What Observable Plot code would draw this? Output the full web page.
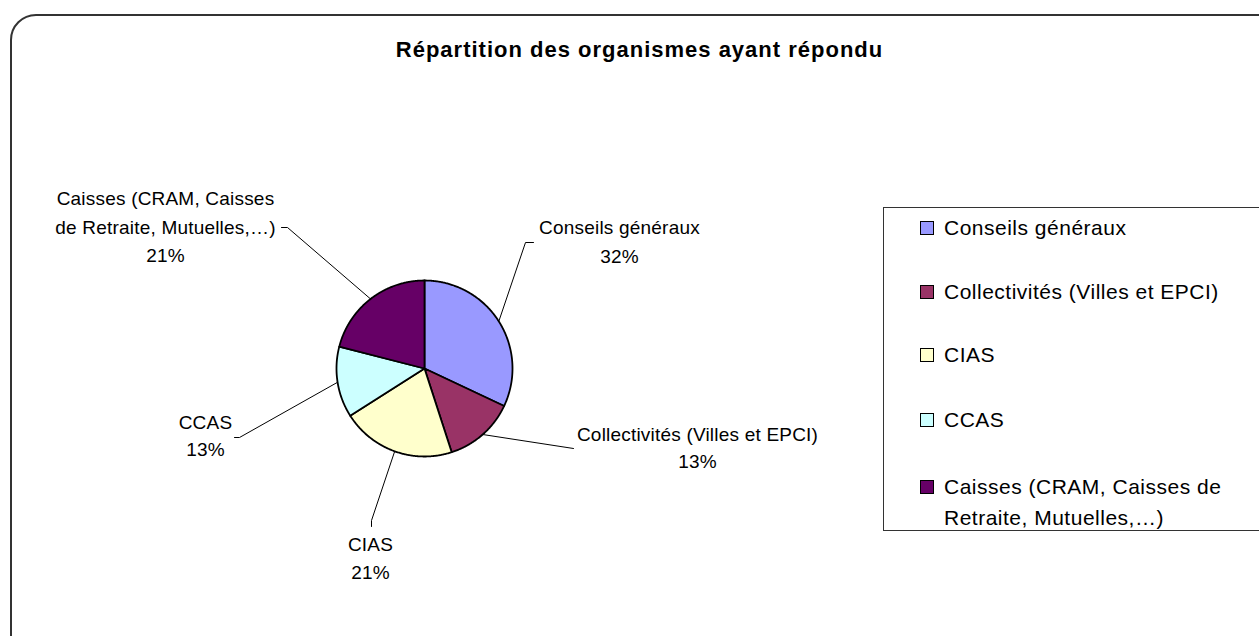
<!DOCTYPE html>
<html>
<head>
<meta charset="utf-8">
<script src="https://cdn.jsdelivr.net/npm/d3@7"></script>
<script src="https://cdn.jsdelivr.net/npm/@observablehq/plot@0.6"></script>
<style>
  body { margin: 0; background: #fff; font-family: Arial, "Liberation Sans", sans-serif; }
  #wrap { position: relative; width: 1259px; height: 636px; overflow: hidden; background: #fff; }
  #frame { position: absolute; left: 10px; top: 14px; width: 1300px; height: 660px; border: 2px solid #333; border-radius: 26px; box-sizing: border-box; }
  #chart { position: absolute; left: 0; top: 0; }
  #legend { position: absolute; left: 883px; top: 207px; width: 420px; height: 324px; border: 1px solid #333; box-sizing: border-box; background: #fff; }
  .sw { position: absolute; left: 36px; width: 12px; height: 12px; border: 1px solid #000; }
  .tx { position: absolute; left: 60px; font-size: 21px; line-height: 31px; letter-spacing: 0.5px; color: #000; white-space: nowrap; }
</style>
</head>
<body>
<div id="wrap">
  <div id="frame"></div>
  <div id="chart"></div>
  <div id="legend"></div>
</div>
<script>
// ---- data ----
const title = "Répartition des organismes ayant répondu";
const categories = ["Conseils généraux", "Collectivités (Villes et EPCI)", "CIAS", "CCAS", "Caisses (CRAM, Caisses de Retraite, Mutuelles,…)"];
const values = [32, 13, 21, 13, 21];
const colors = ["#9999FF", "#993366", "#FFFFCC", "#CCFFFF", "#660066"];
const labelLines = [["Conseils généraux"], ["Collectivités (Villes et EPCI)"], ["CIAS"], ["CCAS"], ["Caisses (CRAM, Caisses", "de Retraite, Mutuelles,…)"]];
const legendLines = [["Conseils généraux"], ["Collectivités (Villes et EPCI)"], ["CIAS"], ["CCAS"], ["Caisses (CRAM, Caisses de", "Retraite, Mutuelles,…)"]];

// ---- layout (pixels) ----
const cx = 424, cy = 368, R = 88;
const labelX = [619, 697, 370, 205, 165];
const labelBaselines = [[233, 262], [440, 467], [550, 578], [428, 455], [204, 233, 261]];
const leaderEnds = [[[525, 242], [533, 242]], [[573, 448]], [[371, 520], [371, 526]], [[239, 437], [234, 437]], [[287, 227], [281, 227]]];
const legendTops = [221, 285, 348, 413, 480];

const ux = px => (px - cx) / R;
const uy = py => (cy - py) / R;

const total = d3.sum(values);
const arcs = d3.pie().sort(null).value(d => d)(values);

// slice polygons in unit coordinates
const slicePts = [];
arcs.forEach((a, i) => {
  slicePts.push({name: categories[i], x: 0, y: 0});
  const n = Math.max(2, Math.ceil((a.endAngle - a.startAngle) / (Math.PI / 360)));
  for (let k = 0; k <= n; k++) {
    const t = a.startAngle + (a.endAngle - a.startAngle) * k / n;
    slicePts.push({name: categories[i], x: Math.sin(t), y: Math.cos(t)});
  }
});

// leader lines: from arc midpoint to label anchor
const leaderPts = [];
arcs.forEach((a, i) => {
  const m = (a.startAngle + a.endAngle) / 2;
  leaderPts.push({name: categories[i], x: Math.sin(m), y: Math.cos(m)});
  leaderEnds[i].forEach(([px, py]) => leaderPts.push({name: categories[i], x: ux(px), y: uy(py)}));
});

// labels
const labelRows = [];
categories.forEach((c, i) => {
  const lines = [...labelLines[i], `${Math.round(values[i] / total * 100)}%`];
  lines.forEach((s, j) => labelRows.push({text: s, x: ux(labelX[i]), y: uy(labelBaselines[i][j])}));
});

const chart = Plot.plot({
  width: 1259,
  height: 636,
  margin: 0,
  style: {fontFamily: "Arial, 'Liberation Sans', sans-serif", background: "transparent", overflow: "visible"},
  x: {domain: [-1, 1], range: [cx - R, cx + R], axis: null},
  y: {domain: [-1, 1], range: [cy + R, cy - R], axis: null},
  color: {domain: categories, range: colors},
  marks: [
    Plot.line(leaderPts, {x: "x", y: "y", z: "name", stroke: "#000", strokeWidth: 1}),
    Plot.line(slicePts, {x: "x", y: "y", z: "name", fill: "name", stroke: "#000", strokeWidth: 1.8, curve: "linear-closed", strokeLinejoin: "round"}),
    Plot.text(labelRows, {x: "x", y: "y", text: "text", lineAnchor: "bottom", textAnchor: "middle", fontSize: 19, fill: "#000"}),
    Plot.text([title], {x: ux(639), y: uy(56), text: d => d, lineAnchor: "bottom", textAnchor: "middle", fontSize: 22, fontWeight: "bold", fill: "#000"})
  ]
});
document.getElementById("chart").appendChild(chart);
// letter spacing for label and title text groups
chart.querySelectorAll("g[aria-label='text']").forEach((g, i) => {
  g.setAttribute("style", i === 0 ? "letter-spacing:0.2px" : "letter-spacing:1px");
});

// legend
const legend = document.getElementById("legend");
const lt = 207;
categories.forEach((c, i) => {
  const sw = document.createElement("div");
  sw.className = "sw";
  sw.style.top = (legendTops[i] - lt - 1) + "px";
  sw.style.background = colors[i];
  legend.appendChild(sw);
  legendLines[i].forEach((s, j) => {
    const t = document.createElement("div");
    t.className = "tx";
    t.style.top = (legendTops[i] - lt + 13 - 22.8 + j * 31) + "px";
    t.textContent = s;
    legend.appendChild(t);
  });
});
</script>
</body>
</html>
